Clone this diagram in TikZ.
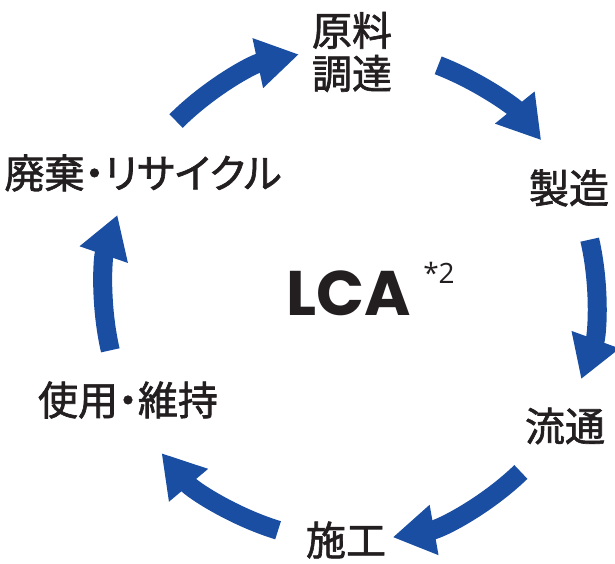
\documentclass[tikz,border=0pt]{standalone}
\usepackage{fontspec}
\setmainfont{Open Sans}
\newfontfamily\jfont[RawFeature={+palt},FakeBold=1.6]{Noto Sans CJK JP}
\newfontfamily\lcafont{Poppins}
\usetikzlibrary{arrows.meta,calc}
\definecolor{lcablue}{RGB}{25,78,162}
\definecolor{lcatext}{RGB}{35,31,32}

\begin{document}
\begin{tikzpicture}[x=1pt,y=1pt,>={Triangle[width=48pt,length=42pt]},
    stage/.style={text=lcatext,inner sep=0pt,align=center,
      font=\jfont\fontsize{40}{43}\selectfont},
    flow/.style={->,draw=lcablue,line width=19pt}]
    \useasboundingbox (0,0) rectangle (615,563);
    \coordinate (c) at (350,268);

    \draw (352,511) node[stage] (genryo) {原料\\調達} ;
    \draw (569,375) node[stage] (seizo) {製造} ;
    \draw (565,137) node[stage] (ryutsu) {流通} ;
    \draw (346,23)  node[stage] (seko) {施工} ;
    \draw (128,163) node[stage] (shiyo) {使用・維持} ;
    \draw (143,390) node[stage] (haiki) {廃棄・リサイクル} ;

    \draw (349,248) node[anchor=base,inner sep=0pt,text=lcatext,
      font=\lcafont\bfseries\fontsize{63}{63}\selectfont] (lca) {LCA} ;
    \draw (439,280) node[anchor=base,inner sep=0pt,text=lcatext,
      font=\fontsize{28}{28}\selectfont] (note) {*2} ;

    % arcs round the cycle
    \draw[flow] (c) ++(135:246pt) arc[start angle=135,end angle=102,radius=246pt];
    \draw[flow] (c) ++(69:246pt)  arc[start angle=69,end angle=39,radius=246pt];
    \draw[flow] (c) ++(13:246pt)  arc[start angle=13,end angle=-20,radius=246pt];
    \draw[flow] (c) ++(-46:246pt) arc[start angle=-46,end angle=-80,radius=246pt];
    \draw[flow] (c) ++(253:246pt) arc[start angle=253,end angle=220,radius=246pt];
    \draw[flow] (c) ++(193:246pt) arc[start angle=193,end angle=161,radius=246pt];
  \end{tikzpicture}
\end{document}
